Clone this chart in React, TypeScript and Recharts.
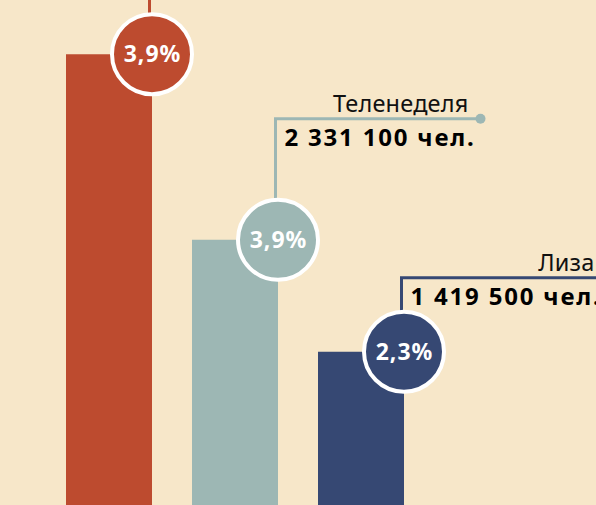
import { Bar, BarChart, Cell, LabelList, XAxis, YAxis } from "recharts";

// издания (первое — за кадром, подпись не видна)
const titles = ["", "Теленеделя", "Лиза"];
const readers = [3842000, 2331100, 1419500];
const shares = ["3,9%", "3,9%", "2,3%"];
const colors = ["#bd4b2f", "#9db7b4", "#364873"];

// how far above each bar top the label line sits (px)
const leaderRise = [90, 121, 74];

const BG = "#f7e7c9";
const FONT = "'Noto Sans', 'Open Sans', sans-serif";

const data = titles.map((title, i) => ({
  title,
  readers: readers[i],
  share: shares[i],
}));

const fmt = (n: number) => String(n).replace(/\B(?=(\d{3})+(?!\d))/g, " ") + " чел.";

function Badge(props: any) {
  const { x, y, width, index } = props;
  const cx = Number(x) + Number(width);
  const cy = Number(y);
  const color = colors[index];
  const lineX = cx - 2.5;
  const lineY = cy - leaderRise[index];
  const lineEnd = lineX + 205;
  const title = titles[index];
  return (
    <g>
      <line x1={lineX} y1={cy - 40} x2={lineX} y2={lineY} stroke={color} strokeWidth={3} />
      {title && (
        <>
          <line x1={lineX - 1.5} y1={lineY} x2={lineEnd} y2={lineY} stroke={color} strokeWidth={3} />
          <circle cx={lineEnd} cy={lineY} r={5} fill={color} />
          <text
            x={lineEnd - 12}
            y={lineY - 7}
            textAnchor="end"
            fontFamily={FONT}
            fontSize={23.5}
            letterSpacing={0.2}
            fill="#111"
          >
            {title}
          </text>
          <text
            x={lineX + 9}
            y={lineY + 27}
            fontFamily={FONT}
            fontSize={24}
            fontWeight={700}
            letterSpacing={1.8}
            fill="#000"
          >
            {fmt(readers[index])}
          </text>
        </>
      )}
      <circle cx={cx} cy={cy} r={40} fill={color} stroke="#fff" strokeWidth={4} />
      <text
        x={cx + 0.5}
        y={cy + 8}
        textAnchor="middle"
        fontFamily={FONT}
        fontSize={23}
        fontWeight={700}
        letterSpacing={1}
        fill="#fff"
      >
        {shares[index]}
      </text>
    </g>
  );
}

export default function App() {
  return (
    <div
      style={{
        position: "fixed",
        left: 0,
        top: 0,
        width: 596,
        height: 505,
        overflow: "hidden",
        background: BG,
      }}
    >
      <div style={{ position: "absolute", left: 0, top: -4 }}>
        <BarChart
          width={596}
          height={530}
          data={data}
          margin={{ top: 2, right: 172, bottom: 0, left: 46 }}
        >
          <XAxis dataKey="title" hide />
          <YAxis hide domain={[0, 4300000]} />
          <Bar dataKey="readers" barSize={86} isAnimationActive={false}>
            {data.map((d, i) => (
              <Cell key={d.title + i} fill={colors[i]} />
            ))}
            <LabelList dataKey="share" content={<Badge />} />
          </Bar>
        </BarChart>
      </div>
    </div>
  );
}
